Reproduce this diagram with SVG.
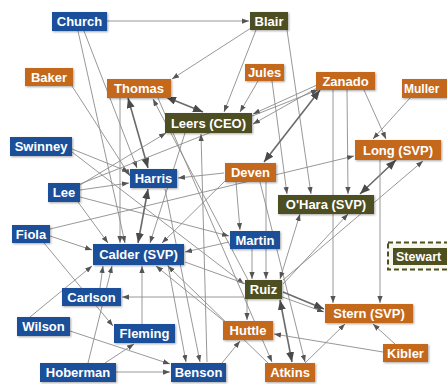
<svg xmlns="http://www.w3.org/2000/svg" width="447" height="384" viewBox="0 0 447 384">
<style>
.e{stroke:#8c8c8c;stroke-width:0.9;fill:none;marker-end:url(#a)}
.d{stroke:#8c8c8c;stroke-width:0.9;fill:none;marker-end:url(#a);marker-start:url(#a)}
.t{stroke:#6a6a6a;stroke-width:1.6;fill:none;marker-end:url(#b);marker-start:url(#b)}
.s{stroke:#6a6a6a;stroke-width:1.4;fill:none;marker-end:url(#b)}
.bl{fill:#1d4f99}
.or{fill:#c4681f}
.ol{fill:#4e5020}
.n rect{filter:url(#sh)}
text{font-family:"Liberation Sans",Arial,sans-serif;font-weight:bold;font-size:13px;fill:#fff;text-anchor:middle}
</style>
<defs>
<marker id="a" viewBox="0 0 8 6" refX="8" refY="3" markerWidth="7" markerHeight="5.5" orient="auto-start-reverse" markerUnits="userSpaceOnUse"><path d="M0,0L8,3L0,6z" fill="#555"/></marker>
<marker id="b" viewBox="0 0 10 8" refX="10" refY="4" markerWidth="10" markerHeight="8" orient="auto-start-reverse" markerUnits="userSpaceOnUse"><path d="M0,0L10,4L0,8z" fill="#4a4a4a"/></marker>
<filter id="sh" x="-20%" y="-30%" width="140%" height="160%"><feDropShadow dx="1" dy="1" stdDeviation="1.2" flood-color="#000" flood-opacity="0.35"/></filter>
</defs>
<rect width="447" height="384" fill="#fff"/>
<g id="connectors">
<line class="e" x1="107" y1="21" x2="249" y2="21"/>
<line class="e" x1="251" y1="28" x2="172" y2="79"/>
<line class="e" x1="256" y1="30" x2="224" y2="112"/>
<line class="e" x1="258" y1="81" x2="240" y2="112"/>
<line class="e" x1="317" y1="85" x2="253" y2="114"/>
<line class="e" x1="317" y1="88" x2="253" y2="124"/>
<line class="e" x1="287" y1="30" x2="311" y2="194"/>
<line class="e" x1="272" y1="81" x2="287" y2="194"/>
<line class="e" x1="347" y1="90" x2="348" y2="194"/>
<line class="e" x1="333" y1="90" x2="333" y2="303"/>
<line class="t" x1="320" y1="90" x2="264" y2="162"/>
<line class="e" x1="364" y1="90" x2="386" y2="139"/>
<line class="e" x1="410" y1="98" x2="373" y2="139"/>
<line class="t" x1="396" y1="160" x2="360" y2="194"/>
<line class="e" x1="380" y1="160" x2="380" y2="303"/>
<line class="e" x1="50" y1="229" x2="354" y2="156"/>
<line class="e" x1="84" y1="31" x2="137" y2="168"/>
<line class="e" x1="78" y1="31" x2="125" y2="243"/>
<line class="e" x1="72" y1="86" x2="130" y2="176"/>
<line class="t" x1="166" y1="97" x2="203" y2="112"/>
<line class="t" x1="128" y1="98" x2="148" y2="168"/>
<line class="e" x1="120" y1="98" x2="120" y2="243"/>
<line class="e" x1="248" y1="280" x2="153" y2="99"/>
<line class="e" x1="158" y1="98" x2="272" y2="362"/>
<line class="e" x1="72" y1="149" x2="129" y2="172"/>
<line class="e" x1="80" y1="190" x2="129" y2="183"/>
<line class="e" x1="80" y1="185" x2="166" y2="133"/>
<line class="e" x1="80" y1="197" x2="229" y2="236"/>
<line class="e" x1="72" y1="152" x2="244" y2="284"/>
<line class="e" x1="80" y1="184" x2="318" y2="90"/>
<line class="e" x1="50" y1="236" x2="92" y2="250"/>
<line class="e" x1="44" y1="243" x2="113" y2="326"/>
<line class="t" x1="138" y1="243" x2="148" y2="189"/>
<line class="e" x1="224" y1="173" x2="178" y2="178"/>
<line class="e" x1="236" y1="182" x2="240" y2="230"/>
<line class="e" x1="266" y1="182" x2="266" y2="279"/>
<line class="e" x1="260" y1="182" x2="305" y2="362"/>
<line class="e" x1="226" y1="180" x2="162" y2="243"/>
<line class="e" x1="185" y1="133" x2="150" y2="243"/>
<line class="e" x1="78" y1="202" x2="108" y2="243"/>
<line class="e" x1="252" y1="249" x2="252" y2="279"/>
<line class="e" x1="229" y1="242" x2="185" y2="252"/>
<line class="d" x1="300" y1="214" x2="280" y2="279"/>
<line class="e" x1="283" y1="284" x2="348" y2="214"/>
<line class="e" x1="283" y1="280" x2="423" y2="161"/>
<line class="e" x1="244" y1="297" x2="122" y2="297"/>
<line class="e" x1="247" y1="299" x2="247" y2="320"/>
<line class="s" x1="283" y1="292" x2="324" y2="309"/>
<line class="t" x1="280" y1="300" x2="292" y2="362"/>
<line class="e" x1="395" y1="344" x2="373" y2="324"/>
<line class="e" x1="383" y1="352" x2="274" y2="334"/>
<line class="e" x1="305" y1="363" x2="345" y2="324"/>
<line class="e" x1="185" y1="262" x2="324" y2="312"/>
<line class="e" x1="116" y1="372" x2="170" y2="372"/>
<line class="e" x1="88" y1="363" x2="112" y2="266"/>
<line class="e" x1="105" y1="363" x2="134" y2="344"/>
<line class="e" x1="70" y1="331" x2="170" y2="364"/>
<line class="e" x1="30" y1="317" x2="92" y2="266"/>
<line class="e" x1="100" y1="288" x2="103" y2="266"/>
<line class="e" x1="142" y1="324" x2="142" y2="266"/>
<line class="e" x1="168" y1="265" x2="186" y2="362"/>
<line class="e" x1="165" y1="189" x2="200" y2="362"/>
<line class="e" x1="207" y1="362" x2="201" y2="134"/>
<line class="e" x1="225" y1="322" x2="156" y2="266"/>
<line class="e" x1="268" y1="363" x2="168" y2="266"/>
<line class="e" x1="222" y1="363" x2="240" y2="341"/>
</g>
<g id="church" class="n"><rect class="bl" x="52" y="12" width="55" height="19"/><text x="79.5" y="26">Church</text></g>
<g id="blair" class="n"><rect class="ol" x="250" y="12" width="38" height="18"/><text x="269" y="26">Blair</text></g>
<g id="baker" class="n"><rect class="or" x="25" y="68" width="48" height="18"/><text x="49" y="82">Baker</text></g>
<g id="thomas" class="n"><rect class="or" x="107" y="79" width="64" height="19"/><text x="139" y="93">Thomas</text></g>
<g id="jules" class="n"><rect class="or" x="245" y="64" width="39" height="17"/><text x="264.5" y="77">Jules</text></g>
<g id="zanado" class="n"><rect class="or" x="316" y="72" width="59" height="18"/><text x="345.5" y="86">Zanado</text></g>
<g id="muller" class="n"><rect class="or" x="402" y="79" width="48" height="19"/><text x="404" y="93" style="text-anchor:start;font-size:12px">Muller</text></g>
<g id="leers" class="n"><rect class="ol" x="165" y="113" width="87" height="20"/><text x="208.5" y="128">Leers (CEO)</text></g>
<g id="swinney" class="n"><rect class="bl" x="10" y="137" width="62" height="19"/><text x="41" y="151">Swinney</text></g>
<g id="long" class="n"><rect class="or" x="355" y="140" width="86" height="20"/><text x="398" y="155">Long (SVP)</text></g>
<g id="harris" class="n"><rect class="bl" x="130" y="169" width="47" height="19"/><text x="153.5" y="183">Harris</text></g>
<g id="deven" class="n"><rect class="or" x="225" y="163" width="51" height="19"/><text x="250.5" y="177">Deven</text></g>
<g id="lee" class="n"><rect class="bl" x="48" y="183" width="32" height="19"/><text x="64" y="197">Lee</text></g>
<g id="ohara" class="n"><rect class="ol" x="278" y="195" width="96" height="19"/><text x="326" y="209">O'Hara (SVP)</text></g>
<g id="fiola" class="n"><rect class="bl" x="12" y="225" width="38" height="18"/><text x="31" y="239">Fiola</text></g>
<g id="martin" class="n"><rect class="bl" x="230" y="231" width="50" height="18"/><text x="255" y="245">Martin</text></g>
<g id="calder" class="n"><rect class="bl" x="93" y="244" width="91" height="21"/><text x="138.5" y="259">Calder (SVP)</text></g>
<g id="stewart"><rect x="388" y="242.5" width="64" height="27" fill="#f6f6ee" stroke="#4e5020" stroke-width="2" stroke-dasharray="5,3"/><rect class="ol" x="393" y="248" width="60" height="17"/><text x="396" y="261" style="text-anchor:start;font-size:12.5px">Stewart</text></g>
<g id="carlson" class="n"><rect class="bl" x="62" y="288" width="59" height="18"/><text x="91.5" y="302">Carlson</text></g>
<g id="ruiz" class="n"><rect class="ol" x="245" y="280" width="37" height="19"/><text x="263.5" y="294">Ruiz</text></g>
<g id="wilson" class="n"><rect class="bl" x="17" y="317" width="53" height="19"/><text x="43.5" y="331">Wilson</text></g>
<g id="fleming" class="n"><rect class="bl" x="114" y="324" width="61" height="19"/><text x="144.5" y="338">Fleming</text></g>
<g id="huttle" class="n"><rect class="or" x="223" y="321" width="50" height="19"/><text x="248" y="335">Huttle</text></g>
<g id="stern" class="n"><rect class="or" x="325" y="304" width="88" height="19"/><text x="369" y="318">Stern (SVP)</text></g>
<g id="kibler" class="n"><rect class="or" x="383" y="344" width="45" height="18"/><text x="405.5" y="358">Kibler</text></g>
<g id="hoberman" class="n"><rect class="bl" x="40" y="363" width="76" height="19"/><text x="78" y="377">Hoberman</text></g>
<g id="benson" class="n"><rect class="bl" x="171" y="363" width="55" height="19"/><text x="198.5" y="377">Benson</text></g>
<g id="atkins" class="n"><rect class="or" x="265" y="363" width="50" height="19"/><text x="290" y="377">Atkins</text></g>
</svg>
